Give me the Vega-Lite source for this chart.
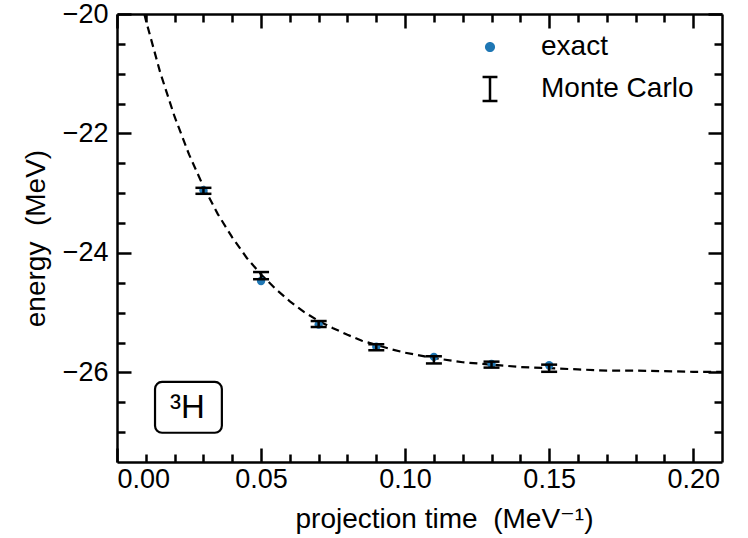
{
  "$schema": "https://vega.github.io/schema/vega-lite/v6.json",
  "width": 605,
  "height": 448,
  "autosize": "none",
  "padding": {"left": 117, "top": 14, "right": 26, "bottom": 76},
  "background": "white",
  "config": {
    "view": {"stroke": null},
    "font": "Liberation Sans",
    "axis": {
      "domainColor": "black",
      "domainWidth": 2.5,
      "tickColor": "black",
      "tickWidth": 2.5,
      "grid": false,
      "labelFont": "Liberation Sans",
      "labelFontSize": 27,
      "labelColor": "black",
      "titleFont": "Liberation Sans, DejaVu Sans",
      "titleFontSize": 28,
      "titleFontWeight": "normal",
      "titleColor": "black"
    }
  },
  "datasets": {
    "curve": [
      {"t": 0.0095, "E": -20.0}, {"t": 0.01, "E": -20.1}, {"t": 0.015, "E": -20.98},
      {"t": 0.02, "E": -21.72}, {"t": 0.025, "E": -22.35}, {"t": 0.03, "E": -22.89},
      {"t": 0.035, "E": -23.35}, {"t": 0.04, "E": -23.74}, {"t": 0.045, "E": -24.08},
      {"t": 0.05, "E": -24.36}, {"t": 0.055, "E": -24.6}, {"t": 0.06, "E": -24.81},
      {"t": 0.065, "E": -24.99}, {"t": 0.07, "E": -25.14}, {"t": 0.075, "E": -25.26},
      {"t": 0.08, "E": -25.37}, {"t": 0.085, "E": -25.47}, {"t": 0.09, "E": -25.54},
      {"t": 0.095, "E": -25.61}, {"t": 0.1, "E": -25.67}, {"t": 0.11, "E": -25.76},
      {"t": 0.12, "E": -25.83}, {"t": 0.13, "E": -25.87}, {"t": 0.14, "E": -25.91},
      {"t": 0.15, "E": -25.93}, {"t": 0.16, "E": -25.95}, {"t": 0.17, "E": -25.97},
      {"t": 0.18, "E": -25.97}, {"t": 0.19, "E": -25.98}, {"t": 0.2, "E": -25.99},
      {"t": 0.21, "E": -25.99}
    ],
    "points": [
      {"t": 0.03, "exact": -22.95, "mc": -22.96, "lo": -23.01, "hi": -22.91},
      {"t": 0.05, "exact": -24.47, "mc": -24.38, "lo": -24.44, "hi": -24.32},
      {"t": 0.07, "exact": -25.2, "mc": -25.19, "lo": -25.24, "hi": -25.14},
      {"t": 0.09, "exact": -25.57, "mc": -25.58, "lo": -25.63, "hi": -25.53},
      {"t": 0.11, "exact": -25.74, "mc": -25.79, "lo": -25.85, "hi": -25.73},
      {"t": 0.13, "exact": -25.86, "mc": -25.87, "lo": -25.92, "hi": -25.82},
      {"t": 0.15, "exact": -25.88, "mc": -25.93, "lo": -25.99, "hi": -25.87}
    ],
    "label": [
      {"x1": 0.0132, "x2": 0.0364, "y1": -26.16, "y2": -27.01, "xc": 0.0244, "yc": -26.6, "txt": "³H"}
    ]
  },
  "resolve": {"axis": {"x": "independent", "y": "independent"}},
  "layer": [
    {
      "data": {"name": "curve"},
      "mark": {"type": "line", "color": "black", "strokeWidth": 2.2, "strokeDash": [8, 5], "clip": true},
      "encoding": {
        "x": {"field": "t", "type": "quantitative",
              "scale": {"domain": [0, 0.21], "nice": false, "zero": false},
              "axis": {"orient": "bottom", "values": [0, 0.05, 0.1, 0.15, 0.2], "format": ".2f",
                       "tickSize": -14, "labelPadding": 18, "title": "projection time \u00a0(MeV⁻¹)",
                       "titlePadding": 13, "titleX": 327}},
        "y": {"field": "E", "type": "quantitative",
              "scale": {"domain": [-27.5, -20], "nice": false, "zero": false},
              "axis": {"orient": "left", "values": [-20, -22, -24, -26], "format": "d",
                       "tickSize": -14, "labelPadding": 23, "title": "energy \u00a0(MeV)", "titlePadding": 12}}
      }
    },
    {
      "data": {"name": "points"},
      "mark": {"type": "point", "filled": true, "size": 70, "opacity": 1, "shape": "circle"},
      "encoding": {
        "x": {"field": "t", "type": "quantitative",
              "axis": {"orient": "top", "values": [0, 0.05, 0.1, 0.15, 0.2], "labels": false,
                       "tickSize": -14, "title": null}},
        "y": {"field": "exact", "type": "quantitative",
              "axis": {"orient": "right", "values": [-20, -22, -24, -26], "labels": false,
                       "tickSize": -14, "title": null}},
        "color": {"datum": "exact", "type": "nominal",
                  "scale": {"domain": ["exact", "Monte Carlo"], "range": ["#1f77b4", "#000000"]},
                  "legend": {
                    "orient": "none", "legendX": 359, "legendY": 19, "title": null,
                    "padding": 0, "symbolSize": 576, "labelFontSize": 28, "labelFont": "Liberation Sans",
                    "labelColor": "black", "labelOffset": 37, "rowPadding": 11,
                    "encoding": {"symbols": {
                      "shape": {"value": {"expr": "datum.value === 'exact' ? 'M0.42,0A0.42,0.42,0,1,1,-0.42,0A0.42,0.42,0,1,1,0.42,0Z' : 'M-0.62,-1H0.62M0,-1V1M-0.62,1H0.62'"}},
                      "fill": {"value": {"expr": "datum.value === 'exact' ? '#1f77b4' : 'transparent'"}},
                      "stroke": {"value": {"expr": "datum.value === 'exact' ? '#1f77b4' : '#000000'"}},
                      "strokeWidth": {"value": {"expr": "datum.value === 'exact' ? 0 : 2.5"}},
                      "opacity": {"value": 1}
                    }}
                  }}
      }
    },
    {
      "data": {"name": "points"},
      "mark": {"type": "rule", "color": "black", "strokeWidth": 2.5},
      "encoding": {
        "x": {"field": "t", "type": "quantitative",
              "axis": {"orient": "bottom", "values": [0.01, 0.02, 0.03, 0.04, 0.06, 0.07, 0.08, 0.09, 0.11, 0.12, 0.13, 0.14, 0.16, 0.17, 0.18, 0.19],
                       "labels": false, "tickSize": -8, "title": null, "domain": false}},
        "y": {"field": "lo", "type": "quantitative",
              "axis": {"orient": "left", "values": [-20.5, -21, -21.5, -22.5, -23, -23.5, -24.5, -25, -25.5, -26.5, -27],
                       "labels": false, "tickSize": -8, "title": null, "domain": false}},
        "y2": {"field": "hi"}
      }
    },
    {
      "data": {"name": "points"},
      "mark": {"type": "tick", "orient": "horizontal", "color": "black", "size": 16, "thickness": 2.5, "opacity": 1},
      "encoding": {
        "x": {"field": "t", "type": "quantitative",
              "axis": {"orient": "top", "values": [0.01, 0.02, 0.03, 0.04, 0.06, 0.07, 0.08, 0.09, 0.11, 0.12, 0.13, 0.14, 0.16, 0.17, 0.18, 0.19],
                       "labels": false, "tickSize": -8, "title": null, "domain": false}},
        "y": {"field": "lo", "type": "quantitative",
              "axis": {"orient": "right", "values": [-20.5, -21, -21.5, -22.5, -23, -23.5, -24.5, -25, -25.5, -26.5, -27],
                       "labels": false, "tickSize": -8, "title": null, "domain": false}}
      }
    },
    {
      "data": {"name": "points"},
      "mark": {"type": "tick", "orient": "horizontal", "color": "black", "size": 16, "thickness": 2.5, "opacity": 1},
      "encoding": {
        "x": {"field": "t", "type": "quantitative", "axis": null},
        "y": {"field": "hi", "type": "quantitative", "axis": null}
      }
    },
    {
      "data": {"name": "label"},
      "mark": {"type": "rect", "fill": "white", "stroke": "black", "strokeWidth": 2.2, "cornerRadius": 7},
      "encoding": {
        "x": {"field": "x1", "type": "quantitative", "axis": null},
        "x2": {"field": "x2"},
        "y": {"field": "y1", "type": "quantitative", "axis": null},
        "y2": {"field": "y2"}
      }
    },
    {
      "data": {"name": "label"},
      "mark": {"type": "text", "fontSize": 33, "font": "Liberation Sans", "color": "black", "align": "center", "baseline": "middle"},
      "encoding": {
        "x": {"field": "xc", "type": "quantitative", "axis": null},
        "y": {"field": "yc", "type": "quantitative", "axis": null},
        "text": {"field": "txt"}
      }
    }
  ]
}
